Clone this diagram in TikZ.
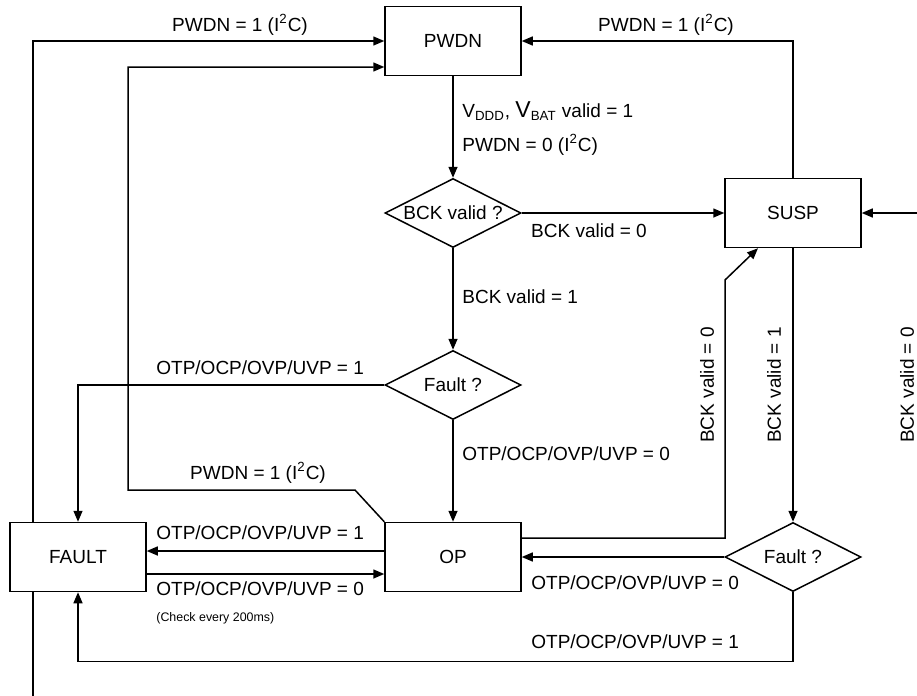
\documentclass[tikz,border=0pt]{standalone}
\usepackage{fontspec}
\setmainfont{Liberation Sans}
\usetikzlibrary{shapes.geometric,arrows.meta,positioning,backgrounds,calc}

\tikzset{
  statebox/.style={draw, fill=white, line width=0.75pt, minimum width=68pt, minimum height=34.5pt, inner sep=0pt},
  decision/.style={draw, fill=white, diamond, aspect=2, line width=0.75pt, minimum width=68pt, minimum height=34.5pt, inner sep=0pt},
  trans/.style={-{Triangle[length=5.5pt,width=4.5pt]}, line width=0.75pt},
  lbl/.style={inner sep=0pt},
  note/.style={inner sep=0pt, font=\fontsize{6.2pt}{7pt}\selectfont},
}

\begin{document}
\begin{tikzpicture}[x=0.5pt, y=-0.5pt, every node/.style={font=\fontsize{9.5pt}{11pt}\selectfont}]
  \useasboundingbox (0,0) rectangle (917,696);
  \clip (0,0) rectangle (917,696);

  % states
  \node[statebox] (pwdn) at (453,41) {PWDN};
  \node[decision] (bckq) at (453,213) {BCK valid ?};
  \node[statebox] (susp) at (793,213) {SUSP};
  \node[decision] (faultq) at (453,385) {Fault ?};
  \node[statebox] (op) at (453,557) {OP};
  \node[statebox] (fault) at (78,557) {FAULT};
  \node[decision] (suspq) at (793,557) {Fault ?};

  % bends and free ends
  \coordinate (lin) at (33,696);
  \coordinate (kink) at (355,490);
  \coordinate (ret) at (128,67);
  \coordinate (up1) at (725,538);
  \coordinate (up2) at (725,280);
  \coordinate (rin) at (917,213);

  \begin{scope}[on background layer]
    \draw[trans] (lin) |- (pwdn.west);
  \end{scope}

  \draw[trans] (op.north west) -- (kink) -| (ret) -- (ret -| pwdn.west);
  \draw[trans] (susp.north) |- (pwdn.east);
  \draw[trans] (pwdn.south) -- (bckq.north);
  \draw[trans] (bckq.east) -- (susp.west);
  \draw[trans] (bckq.south) -- (faultq.north);
  \draw[trans] (faultq.west) -| (fault.north);
  \draw[trans] (faultq.south) -- (op.north);
  \draw[trans] ([yshift=3pt]op.west) -- ([yshift=3pt]fault.east);
  \draw[trans] ([yshift=-8.5pt]fault.east) -- ([yshift=-8.5pt]op.west);
  \draw[trans] ([yshift=9.5pt]op.east) -- (up1) -- (up2) -- ([xshift=-17.5pt]susp.south);
  \draw[trans] (susp.south) -- (suspq.north);
  \draw[trans] (suspq.west) -- (op.east);
  \draw[trans] (suspq.south) -- ++(0,69) -| (fault.south);
  \draw[trans] (rin) -- (susp.east);

  % labels
  \node[lbl] (t1) at (240,25) {PWDN = 1 (I\textsuperscript{2}C)};
  \node[lbl] (t2) at (666,25) {PWDN = 1 (I\textsuperscript{2}C)};
  \node[lbl, anchor=west] (t3) at (462,111) {V\textsubscript{DDD}, {\fontsize{11.5pt}{12pt}\selectfont V}\textsubscript{BAT} valid = 1};
  \node[lbl, anchor=west] (t4) at (462,145) {PWDN = 0 (I\textsuperscript{2}C)};
  \node[lbl] (t5) at (589,231) {BCK valid = 0};
  \node[lbl, anchor=west] (t6) at (462,297) {BCK valid = 1};
  \node[lbl, anchor=west] (t7) at (156,368) {OTP/OCP/OVP/UVP = 1};
  \node[lbl, anchor=west] (t8) at (462,454) {OTP/OCP/OVP/UVP = 0};
  \node[lbl] (t9) at (258,473) {PWDN = 1 (I\textsuperscript{2}C)};
  \node[lbl, anchor=west] (t10) at (156,533) {OTP/OCP/OVP/UVP = 1};
  \node[lbl, anchor=west] (t11) at (156,589) {OTP/OCP/OVP/UVP = 0};
  \node[note, anchor=west] (t12) at (156,618) {(Check every 200ms)};
  \node[lbl, rotate=90] (t13) at (707,385) {BCK valid = 0};
  \node[lbl, rotate=90] (t14) at (774,385) {BCK valid = 1};
  \node[lbl, anchor=west] (t15) at (531,583) {OTP/OCP/OVP/UVP = 0};
  \node[lbl, anchor=west] (t16) at (531,642) {OTP/OCP/OVP/UVP = 1};
  \node[lbl, rotate=90] (t17) at (907,385) {BCK valid = 0};
\end{tikzpicture}
\end{document}
